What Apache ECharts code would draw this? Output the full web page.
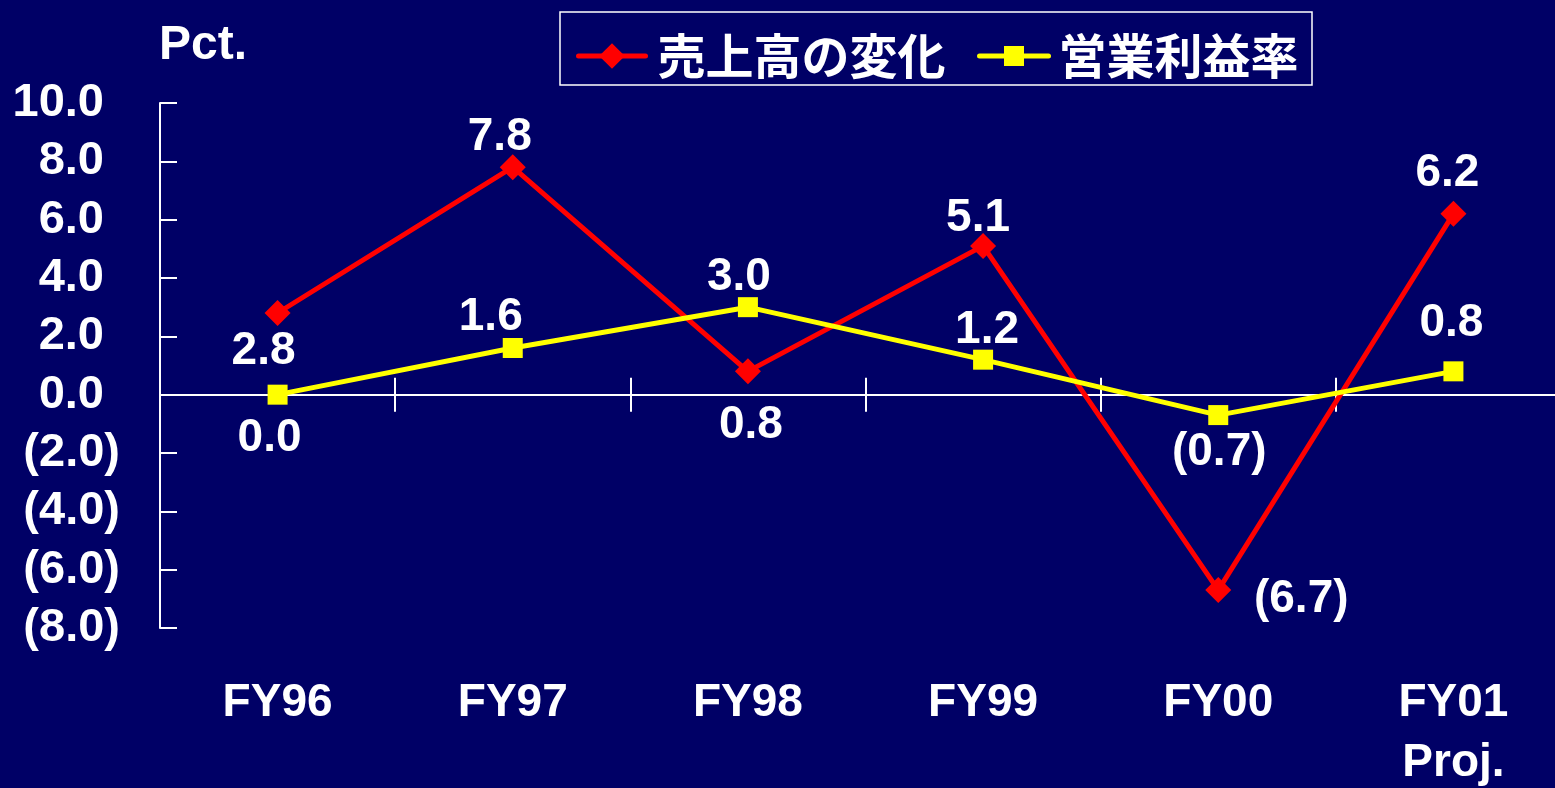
<!DOCTYPE html>
<html><head><meta charset="utf-8">
<script src="https://cdn.jsdelivr.net/npm/echarts@6/dist/echarts.min.js"></script>
<style>html,body{margin:0;padding:0;background:#000066;}#c{width:1555px;height:788px;}</style>
</head><body><div id="c"></div>
<script>
const categories = ['FY96', 'FY97', 'FY98', 'FY99', 'FY00', 'FY01\nProj.'];
const salesChange = [2.8, 7.8, 0.8, 5.1, -6.7, 6.2];
const operatingMargin = [0.0, 1.6, 3.0, 1.2, -0.7, 0.8];
const seriesNames = ['売上高の変化', '営業利益率'];
const yMin = -8, yMax = 10, yStep = 2;

// label placement (styling only)
const salesLabelOffset = [[-14, 38], [-13, -30], [3, 54], [-5, -28], [83, 9], [-6, -41]];
const marginLabelOffset = [[-8, 44], [-22, -31], [-9, -30], [4, -29], [1, 37], [-2, -48]];

const F = "'Liberation Sans', Arial, sans-serif";
const CJK = "'Noto Sans CJK JP', sans-serif";
const fmt = v => v < 0 ? '(' + Math.abs(v).toFixed(1) + ')' : Math.abs(v).toFixed(1);

const chart = echarts.init(document.getElementById('c'));
const tickStyle = { color: '#fff', width: 2 };
const dataLabel = { show: true, position: 'inside', formatter: p => fmt(p.value), color: '#fff', fontSize: 46, fontWeight: 'bold', fontFamily: F, textBorderWidth: 0 };

chart.setOption({
  animation: false,
  backgroundColor: '#000066',
  title: { text: 'Pct.', left: 159, top: 22, padding: 0, textStyle: { color: '#fff', fontSize: 48, fontWeight: 'bold', fontFamily: F } },
  graphic: [{ type: 'rect', silent: true, shape: { x: 560, y: 12, width: 752, height: 73 }, style: { fill: 'none', stroke: '#fff', lineWidth: 1.5 } }],
  legend: [
    { data: [seriesNames[0]], left: 576, top: 31, padding: 0, itemWidth: 67, itemHeight: 32, selectedMode: false,
      lineStyle: { width: 5, cap: 'round' },
      textStyle: { color: '#fff', fontSize: 48, fontWeight: 'bold', fontFamily: CJK, lineHeight: 50, padding: [0, 0, 0, 7] } },
    { data: [seriesNames[1]], left: 977, top: 31, padding: 0, itemWidth: 69, itemHeight: 25, selectedMode: false,
      lineStyle: { width: 5, cap: 'round' },
      textStyle: { color: '#fff', fontSize: 48, fontWeight: 'bold', fontFamily: CJK, lineHeight: 50, padding: [0, 0, 0, 5] } }
  ],
  grid: { left: 160, top: 103, width: 1411, height: 525, containLabel: false, outerBoundsMode: 'none' },
  xAxis: [
    { type: 'category', data: categories, position: 'bottom', axisLine: { show: false, onZero: false }, axisTick: { show: false },
      axisLabel: { interval: 0, margin: 45, color: '#fff', fontSize: 46, fontWeight: 'bold', fontFamily: F, lineHeight: 60 } },
    { type: 'category', data: categories, position: 'bottom', axisLine: { show: true, onZero: true, onZeroAxisIndex: 0, lineStyle: tickStyle },
      axisTick: { show: true, length: 17, lineStyle: tickStyle }, axisLabel: { show: false } },
    { type: 'category', data: categories, position: 'top', axisLine: { show: false, onZero: true, onZeroAxisIndex: 1 },
      axisTick: { show: true, length: 17, lineStyle: tickStyle }, axisLabel: { show: false } }
  ],
  yAxis: [{
    type: 'value', min: yMin, max: yMax, interval: yStep,
    axisLine: { show: true, onZero: false, lineStyle: tickStyle },
    axisTick: { show: true, inside: true, length: 17, lineStyle: tickStyle },
    splitLine: { show: false },
    axisLabel: {
      margin: 40,
      formatter: v => v < 0 ? '{n|' + fmt(v) + '}' : '{n|' + fmt(v) + '}{g| }',
      rich: { n: { color: '#fff', fontSize: 47, fontWeight: 'bold', fontFamily: F }, g: { width: 16, fontSize: 47 } }
    }
  }, {
    type: 'value', min: yMin, max: yMax, interval: yStep, position: 'right', show: false,
    axisLine: { show: false, onZero: false }, splitLine: { show: false }
  }],
  series: [
    { name: seriesNames[0], type: 'line', xAxisIndex: 0, yAxisIndex: 0, symbol: 'diamond', symbolSize: 26,
      lineStyle: { color: '#ff0000', width: 5 }, itemStyle: { color: '#ff0000' }, label: dataLabel,
      data: salesChange.map((v, i) => ({ value: v, label: { offset: salesLabelOffset[i] } })) },
    { name: seriesNames[1], type: 'line', xAxisIndex: 0, yAxisIndex: 0, symbol: 'rect', symbolSize: 20,
      lineStyle: { color: '#ffff00', width: 5 }, itemStyle: { color: '#ffff00' }, label: dataLabel,
      data: operatingMargin.map((v, i) => ({ value: v, label: { offset: marginLabelOffset[i] } })) }
  ]
});
</script>
</body></html>
